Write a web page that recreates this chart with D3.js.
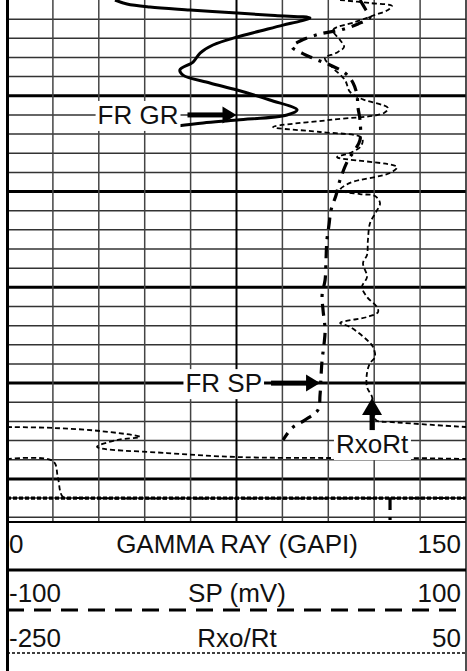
<!DOCTYPE html>
<html>
<head>
<meta charset="utf-8">
<script src="https://cdn.jsdelivr.net/npm/d3@7"></script>
<style>
  html, body { margin: 0; padding: 0; background: #fff; }
  svg { display: block; }
  text { font-family: "Liberation Sans", Arial, sans-serif; fill: #111; }
</style>
</head>
<body>
<svg id="log" width="467" height="671"></svg>
<script>
// ---- Depth track (ft), 10 ft per division ----
const depthTop = 5000;
const depthBottom = 5272.5;
const depthTicks = d3.range(5010, 5271, 10);

// ---- Track scales ----
const grDomain = [0, 150];
const spDomain = [-100, 100];
const rxoDomain = [-250, 50];
const grTicks = d3.range(0, 151, 15);

// ---- Header labels ----
const trackNames = ["GAMMA RAY (GAPI)", "SP (mV)", "Rxo/Rt"];
const trackLeft = ["0", "-100", "-250"];
const trackRight = ["150", "100", "50"];

// ---- Gamma ray (GAPI) ----
const grDepth = [5000, 5002.1, 5003.7, 5005.2, 5006.8, 5008.1, 5009.4, 5011.0, 5013.1, 5016.2,
  5019.3, 5023.5, 5027.7, 5032.4, 5036.5, 5039.2, 5043.3, 5047.0, 5052.2, 5057.4,
  5060.0, 5062.6, 5064.2, 5065.8];
const grValue = [35.3, 39.2, 46.7, 59.8, 75.2, 87.6, 99.0, 95.8, 90.2, 82.7,
  75.2, 67.3, 63.1, 60.8, 56.5, 57.5, 66.3, 75.2, 85.9, 94.8,
  91.5, 75.2, 64.1, 55.6];

// ---- SP (mV) ----
const spDepth = [5000, 5005.2, 5008.9, 5012.5, 5015.7, 5017.7, 5021.4, 5024.5, 5027.7, 5030.8,
  5033.9, 5038.1, 5043.3, 5049.6, 5055.9, 5062.6, 5073.1, 5078.3, 5083.5, 5094.0,
  5101.8, 5109.6, 5117.5, 5125.3, 5135.7, 5146.2, 5154.0, 5161.8, 5172.3, 5180.1,
  5187.9, 5197.3, 5206.2, 5214.0, 5219.3, 5223.4, 5229.7,
  null, 5260, 5272.5];
const spValue = [53.8, 56.4, 58.2, 52.9, 45.1, 36.4, 27.7, 24.2, 28.5, 34.2,
  40.7, 47.3, 50.8, 52.5, 52.9, 53.8, 53.8, 51.6, 48.6, 45.1,
  43.4, 41.2, 40.3, 39.4, 39.0, 38.6, 37.3, 37.7, 38.6, 38.1,
  37.3, 36.8, 36.4, 35.5, 29.8, 24.2, 20.3,
  null, 66.9, 66.9];
// SP pegged across the track at the base
const spBaseDepth = [5260, 5260];
const spBaseValue = [-100, 100];

// ---- Rxo/Rt (wraps onto the backup scale where it leaves the track) ----
const rxoDepth = [5000, 5001.6, 5003.1, 5005.2, 5007.8, 5011.5, 5015.7, 5020.9, 5024.5, 5027.7,
  5030.3, 5035.5, 5041.8, 5048.0, 5051.7, 5056.4, 5059.0, 5062.6, 5066.3, 5068.9,
  5072.0, 5076.2, 5079.9, 5082.0, 5087.2, 5090.3, 5095.5, 5099.2, 5101.3, 5102.3,
  5106.0, 5110.7, 5116.4, 5125.3, 5133.1, 5137.3, 5144.6, 5149.8, 5155.0, 5160.3,
  5162.9, 5165.5, 5168.6, 5170.7, 5177.5, 5181.1, 5186.4, 5189.5, 5194.7, 5202.0,
  5207.2, 5214.0, 5219.3, 5220.3, 5222.9,
  null, 5222.9, 5223.4, 5225.0, 5228.1, 5229.7, 5233.3, 5236.5, 5238.6, 5239.1, 5239.1, 5239.6,
  null, 5239.6, 5240.7, 5249.5, 5259.4, 5260, 5260];
const rxoValue = [-32.3, -12.7, 1.6, -1.0, -9.5, -22.5, -36.9, -32.3, -29.7, -35.0,
  -42.2, -36.9, -29.1, -25.8, -18.0, -1.0, -3.6, -38.9, -76.1, -45.4,
  -18.0, -18.6, -25.8, -34.3, 4.9, 0.3, -25.8, -32.3, -19.3, -9.5,
  -6.2, -8.8, -12.7, -14.1, -14.7, -17.3, -14.7, -18.0, -14.7, -8.2,
  -7.5, -14.7, -32.3, -25.8, -14.7, -10.8, -9.5, -12.7, -14.7, -14.7,
  -11.4, -10.1, -8.8, 1.6, 50,
  null, -250, -219.9, -189.2, -163.1, -178.1, -191.2, -145.4, -99.0, -36.9, 12.1, 50,
  null, -250, -219.9, -216.7, -213.4, -202.3, 50];

// ---- Curve call-outs (anchored at the curve they name) ----
const callouts = [
  { text: "FR GR", track: "gr", value: 75, depth: 5060, dir: "right" },
  { text: "FR SP", track: "sp", value: 36.4, depth: 5200, dir: "right" },
  { text: "RxoRt", track: "rxo", value: -11.4, depth: 5207.8, dir: "up" }
];

// ================= drawing =================
const W = 467, H = 671;
const left = 7, right = 466, gridBottom = 522;

const svg = d3.select("#log");
const y = d3.scaleLinear().domain([depthTop, depthBottom]).range([0, gridBottom]);
const xGR = d3.scaleLinear().domain(grDomain).range([left, right]);
const xSP = d3.scaleLinear().domain(spDomain).range([left, right]);
const xRxo = d3.scaleLinear().domain(rxoDomain).range([left, right]);
const scales = { gr: xGR, sp: xSP, rxo: xRxo };

svg.append("rect").attr("width", W).attr("height", H).attr("fill", "#fff");

// grid: depth lines
const grid = svg.append("g");
grid.selectAll("line.h").data(depthTicks).join("line")
  .attr("x1", left).attr("x2", right)
  .attr("y1", d => y(d)).attr("y2", d => y(d))
  .attr("stroke", d => (d - depthTop) % 50 === 0 ? "#000" : "#333")
  .attr("stroke-width", d => (d - depthTop) % 50 === 0 ? 3 : 1.5);

// grid: value lines
grid.selectAll("line.v").data(grTicks.slice(1, -1)).join("line")
  .attr("x1", d => xGR(d)).attr("x2", d => xGR(d))
  .attr("y1", 0).attr("y2", gridBottom)
  .attr("stroke", d => d === 75 ? "#000" : "#444")
  .attr("stroke-width", d => d === 75 ? 2 : 1.5);

// track bottom edge and right edge
svg.append("line").attr("x1", left).attr("x2", right)
  .attr("y1", gridBottom).attr("y2", gridBottom)
  .attr("stroke", "#000").attr("stroke-width", 1.8);
svg.append("line").attr("x1", right).attr("x2", right)
  .attr("y1", 0).attr("y2", H)
  .attr("stroke", "#222").attr("stroke-width", 1.6);

// clip for curves
svg.append("clipPath").attr("id", "trackClip")
  .append("rect").attr("x", left).attr("y", 0)
  .attr("width", right - left).attr("height", gridBottom);

const curves = svg.append("g").attr("clip-path", "url(#trackClip)");

function series(depths, values) {
  return d3.zip(depths, values).map(([d, v]) => ({ d, v }));
}
function pathFor(xs) {
  return d3.line()
    .defined(p => p.d != null && p.v != null)
    .x(p => xs(p.v)).y(p => y(p.d))
    .curve(d3.curveCatmullRom.alpha(0.5));
}

// Rxo/Rt: thin dashed
curves.append("path")
  .attr("d", pathFor(xRxo)(series(rxoDepth, rxoValue)))
  .attr("fill", "none").attr("stroke", "#000")
  .attr("stroke-width", 1.8).attr("stroke-dasharray", "5,3");

// SP: heavy dash-dot
curves.append("path")
  .attr("d", pathFor(xSP)(series(spDepth, spValue)))
  .attr("fill", "none").attr("stroke", "#000")
  .attr("stroke-width", 3.2).attr("stroke-dasharray", "12,7,3,7");

// SP pegged at the base: dense short dashes
curves.append("path")
  .attr("d", pathFor(xSP)(series(spBaseDepth, spBaseValue)))
  .attr("fill", "none").attr("stroke", "#000")
  .attr("stroke-width", 3.2).attr("stroke-dasharray", "4,2");

// GR: solid
curves.append("path")
  .attr("d", pathFor(xGR)(series(grDepth, grValue)))
  .attr("fill", "none").attr("stroke", "#000")
  .attr("stroke-width", 3).attr("stroke-linejoin", "round");

// call-outs
const fontSize = 26;
callouts.forEach(c => {
  const tx = scales[c.track](c.value);
  const ty = y(c.depth);
  const g = svg.append("g");
  const box = g.append("rect").attr("fill", "#fff");
  let t;
  if (c.dir === "right") {
    t = g.append("text").attr("x", tx - 58).attr("y", ty + 9)
      .attr("text-anchor", "end").attr("font-size", fontSize).text(c.text);
    g.append("rect").attr("x", tx - 49).attr("y", ty - 2.5)
      .attr("width", 37).attr("height", 5).attr("fill", "#000");
    g.append("path")
      .attr("d", `M${tx},${ty}L${tx - 14},${ty - 8.5}L${tx - 14},${ty + 8.5}Z`)
      .attr("fill", "#000");
  } else {
    t = g.append("text").attr("x", tx).attr("y", ty + 55)
      .attr("text-anchor", "middle").attr("font-size", fontSize).text(c.text);
    g.append("rect").attr("x", tx - 2.5).attr("y", ty + 15)
      .attr("width", 5).attr("height", 17).attr("fill", "#000");
    g.append("path")
      .attr("d", `M${tx},${ty}L${tx - 10},${ty + 17}L${tx + 10},${ty + 17}Z`)
      .attr("fill", "#000");
  }
  const bb = t.node().getBBox();
  box.attr("x", bb.x - 2).attr("y", bb.y + 1)
    .attr("width", bb.width + 4).attr("height", bb.height);
});

// ---- header ----
const header = svg.append("g");
const rowBase = [553, 602, 647];
header.selectAll("text.name").data(trackNames).join("text")
  .attr("x", 237).attr("y", (d, i) => rowBase[i])
  .attr("text-anchor", "middle").attr("font-size", fontSize).text(d => d);
header.selectAll("text.lo").data(trackLeft).join("text")
  .attr("x", 9).attr("y", (d, i) => rowBase[i])
  .attr("font-size", fontSize).text(d => d);
header.selectAll("text.hi").data(trackRight).join("text")
  .attr("x", 461).attr("y", (d, i) => rowBase[i])
  .attr("text-anchor", "end").attr("font-size", fontSize).text(d => d);

// legend strokes for each curve
const legendRows = [
  { y: 570, width: 3, dash: null },
  { y: 610, width: 3, dash: "17,10" },
  { y: 653, width: 1.6, dash: "3,2" }
];
header.selectAll("line.key").data(legendRows).join("line")
  .attr("x1", left).attr("x2", right)
  .attr("y1", d => d.y).attr("y2", d => d.y)
  .attr("stroke", "#000").attr("stroke-width", d => d.width)
  .attr("stroke-dasharray", d => d.dash);

// left edge of the log
svg.append("line").attr("x1", 7.5).attr("x2", 7.5)
  .attr("y1", 0).attr("y2", H)
  .attr("stroke", "#000").attr("stroke-width", 3);
</script>
</body>
</html>
